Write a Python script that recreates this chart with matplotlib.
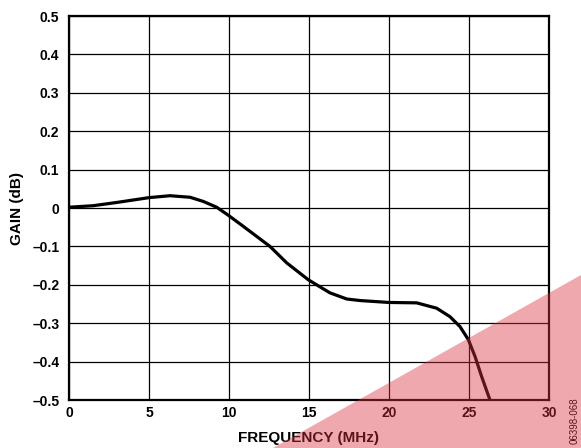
import matplotlib
matplotlib.use("Agg")
import matplotlib.pyplot as plt
from matplotlib.patches import Polygon

freq_mhz = [0, 1.52, 3.08, 5.0, 6.31, 7.56, 8.4, 9.23, 9.96, 10.9, 12.56, 13.61, 14.96,
            16.31, 17.36, 18.19, 20.0, 21.73, 22.98, 23.81, 24.44, 24.96, 25.38, 25.79, 26.31]
gain_db = [0.002, 0.006, 0.015, 0.027, 0.032, 0.028, 0.017, 0.002, -0.019, -0.048, -0.100, -0.143, -0.187,
           -0.221, -0.237, -0.241, -0.246, -0.247, -0.261, -0.283, -0.309, -0.343, -0.387, -0.439, -0.500]

xticks = [0, 5, 10, 15, 20, 25, 30]
yticks = [0.5, 0.4, 0.3, 0.2, 0.1, 0, -0.1, -0.2, -0.3, -0.4, -0.5]
ytick_labels = ["0.5", "0.4", "0.3", "0.2", "0.1", "0", "–0.1", "–0.2", "–0.3", "–0.4", "–0.5"]

plt.rcParams['font.family'] = ['Liberation Sans', 'DejaVu Sans']

W, H = 581, 448
fig = plt.figure(figsize=(W/100, H/100), dpi=100)
ax = fig.add_axes([69/W, 1-400/H, 480/W, 384/H])

ax.plot(freq_mhz, gain_db, color='black', lw=2.3, solid_capstyle='butt',
        solid_joinstyle='round', zorder=3)

ax.set_xlim(0, 30)
ax.set_ylim(-0.5, 0.5)
ax.set_xticks(xticks)
ax.set_xticklabels([str(t) for t in xticks], fontsize=10, fontweight='bold')
ax.set_yticks(yticks)
ax.set_yticklabels(ytick_labels, fontsize=10, fontweight='bold')
ax.tick_params(axis='y', length=0, pad=7)
ax.tick_params(axis='x', length=0, pad=4)
ax.grid(True, color='black', lw=0.9)
for s in ax.spines.values():
    s.set_linewidth(1.6)

ax.set_xlabel("FREQUENCY (MHz)", fontsize=11, fontweight='bold', labelpad=8)
ax.set_ylabel("GAIN (dB)", fontsize=11, fontweight='bold', labelpad=6)

fig.text(575/W, 1-421/H, "06398-068", rotation=90, fontsize=7, ha='center', va='center')

# translucent red watermark band
band = Polygon([(273/W, 0), (1, 1-275/H), (1, 0)], closed=True, transform=fig.transFigure,
               facecolor=(0.85, 0.2, 0.25), alpha=0.42, edgecolor='none', zorder=10)
fig.patches.append(band)

fig.savefig("out.png", dpi=100)
